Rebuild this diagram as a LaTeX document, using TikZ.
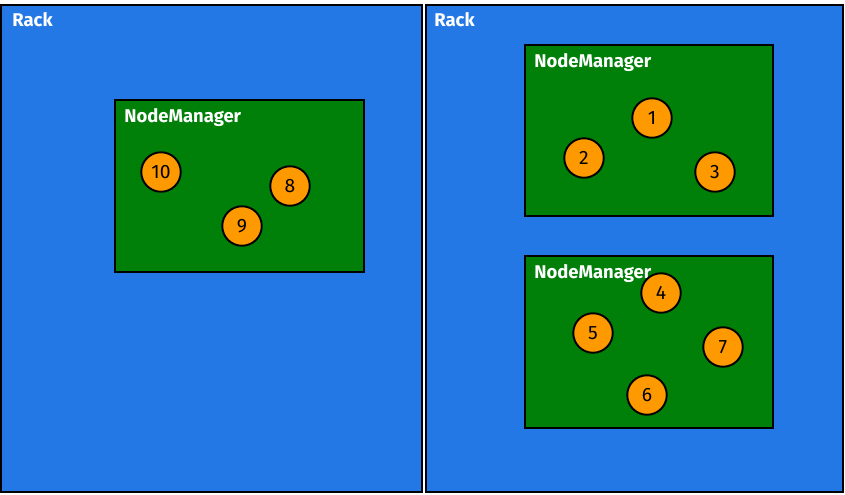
\documentclass[tikz,border=0pt]{standalone}
\usepackage{fontspec}
\setmainfont{Fira Sans}
\usepackage{tikz}
\usetikzlibrary{calc}

\definecolor{rackblue}{RGB}{36,120,230}
\definecolor{nmgreen}{RGB}{0,128,8}
\definecolor{workorange}{RGB}{255,153,0}

\tikzset{
  rack/.style={draw=black, line width=1.3pt, fill=rackblue},
  nm/.style={draw=black, line width=1.4pt, fill=nmgreen},
  label/.style={anchor=north west, inner sep=0pt, text=white, font=\fontsize{10.5}{12}\selectfont\bfseries},
  worker/.style={circle, draw=black, line width=1.1pt, fill=workorange, minimum size=0.79cm, inner sep=0pt, font=\fontsize{11}{12}\selectfont}
}

\begin{document}
\begin{tikzpicture}[x=0.02cm, y=-0.02cm]

\fill[white] (0,0) rectangle (845,494);
\useasboundingbox (0,0) rectangle (845,494);

% Racks
\draw[rack] (1,5) rectangle (422,492);
\draw[rack] (426,5) rectangle (843,492);
\node[label] (rackL) at (12,12) {Rack};
\node[label] (rackR) at (434,12) {Rack};

% Left NodeManager
\draw[nm] (115,100) rectangle (364,272);
\node[label] (nmL) at (124,108) {NodeManager};

% Right NodeManagers
\draw[nm] (525,45) rectangle (773,216);
\node[label] (nmA) at (534,53) {NodeManager};
\draw[nm] (525,256) rectangle (773,428);
\node[label] (nmB) at (534,264) {NodeManager};

% Containers
\foreach \n/\x/\y in {1/652/118, 2/584/158, 3/715/172, 4/661/293, 5/593/333,
                      6/647/395, 7/723/347, 8/290/186, 9/242/226, 10/161/172} {
  \node[worker] (n\n) at (\x,\y) {\n};
}

\end{tikzpicture}
\end{document}
